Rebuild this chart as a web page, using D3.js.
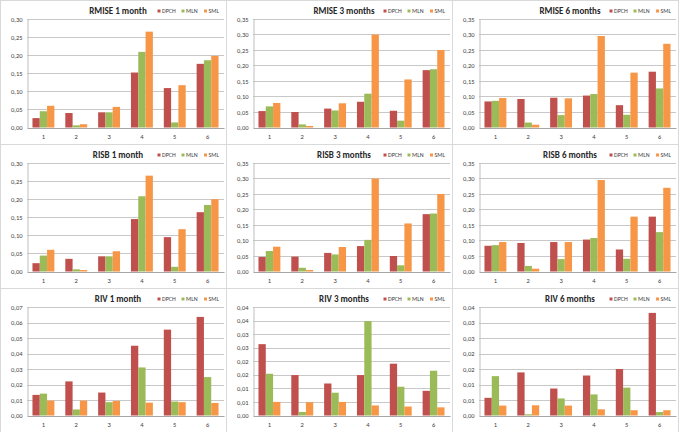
<!DOCTYPE html>
<html>
<head>
<meta charset="utf-8">
<script src="https://cdn.jsdelivr.net/npm/d3@7"></script>
<style>
  body { margin: 0; background: #fff; }
  svg { display: block; }
  text { font-family: Carlito, Calibri, "Liberation Sans Narrow", "Arial Narrow", "Liberation Sans", sans-serif; }
</style>
</head>
<body>
<div id="chart"></div>
<script>
var width = 679,
    height = 432;

var categories = ['1', '2', '3', '4', '5', '6'];
var seriesNames = ['DPCH', 'MLN', 'SML'];
var colors = ['#c0504d', '#9bbb59', '#f79646'];

var titles = ['RMISE 1 month', 'RMISE 3 months', 'RMISE 6 months',
              'RISB 1 month', 'RISB 3 months', 'RISB 6 months',
              'RIV 1 month', 'RIV 3 months', 'RIV 6 months'];

// axis max and tick step for each panel
var yMax  = [0.30, 0.35, 0.35, 0.30, 0.35, 0.35, 0.07, 0.04, 0.035];
var yStep = [0.05, 0.05, 0.05, 0.05, 0.05, 0.05, 0.01, 0.005, 0.005];

// each panel: [DPCH, MLN, SML]
var rmise1 = [[0.026, 0.040, 0.042, 0.152, 0.109, 0.176],
              [0.045, 0.006, 0.042, 0.209, 0.014, 0.186],
              [0.060, 0.009, 0.057, 0.265, 0.117, 0.198]];
var rmise3 = [[0.053, 0.050, 0.061, 0.083, 0.054, 0.185],
              [0.068, 0.010, 0.055, 0.109, 0.022, 0.188],
              [0.079, 0.005, 0.078, 0.300, 0.155, 0.250]];
var rmise6 = [[0.084, 0.092, 0.096, 0.103, 0.072, 0.180],
              [0.086, 0.016, 0.040, 0.108, 0.041, 0.126],
              [0.095, 0.009, 0.094, 0.295, 0.177, 0.270]];
var risb1  = [[0.023, 0.035, 0.042, 0.145, 0.095, 0.164],
              [0.044, 0.006, 0.042, 0.208, 0.013, 0.184],
              [0.060, 0.004, 0.056, 0.265, 0.117, 0.200]];
var risb3  = [[0.047, 0.048, 0.060, 0.082, 0.050, 0.185],
              [0.066, 0.012, 0.055, 0.102, 0.020, 0.187],
              [0.080, 0.005, 0.079, 0.300, 0.155, 0.250]];
var risb6  = [[0.083, 0.092, 0.095, 0.103, 0.071, 0.177],
              [0.085, 0.018, 0.040, 0.108, 0.041, 0.127],
              [0.095, 0.009, 0.095, 0.295, 0.177, 0.270]];
var riv1   = [[0.0133, 0.0220, 0.0148, 0.0450, 0.0554, 0.0636],
              [0.0141, 0.0039, 0.0086, 0.0310, 0.0090, 0.0248],
              [0.0096, 0.0096, 0.0094, 0.0083, 0.0086, 0.0081]];
var riv3   = [[0.0263, 0.0149, 0.0118, 0.0149, 0.0191, 0.0091],
              [0.0154, 0.0013, 0.0084, 0.0348, 0.0106, 0.0165],
              [0.0050, 0.0049, 0.0050, 0.0037, 0.0033, 0.0030]];
var riv6   = [[0.0057, 0.0139, 0.0087, 0.0129, 0.0150, 0.0331],
              [0.0127, 0.0004, 0.0055, 0.0068, 0.0090, 0.0011],
              [0.0032, 0.0033, 0.0032, 0.0020, 0.0017, 0.0017]];

var panelData = [rmise1, rmise3, rmise6, risb1, risb3, risb6, riv1, riv3, riv6];

var panelW = 226,
    panelH = 144;

var plot = { left: 27, right: 224, top: 19, bottom: 127.5 };

var svg = d3.select('#chart').append('svg')
    .attr('width', width)
    .attr('height', height);

var fmt = function(v) {
    return (Math.round(v * 100 + 1e-7) / 100).toFixed(2).replace('.', ',');
};

panelData.forEach(function(series, i) {
    var col = i % 3,
        row = Math.floor(i / 3);

    var g = svg.append('g')
        .attr('transform', 'translate(' + (col * panelW) + ',' + (row * panelH) + ')');

    g.append('rect')
        .attr('x', 0.5).attr('y', 0.5)
        .attr('width', panelW).attr('height', panelH)
        .attr('fill', '#fff')
        .attr('stroke', '#d9d9d9');

    var x = d3.scaleBand()
        .domain(categories)
        .range([plot.left, plot.right])
        .paddingInner(0.333)
        .paddingOuter(0.1665);

    var xSub = d3.scaleBand()
        .domain(seriesNames)
        .range([0, x.bandwidth()]);

    var y = d3.scaleLinear()
        .domain([0, yMax[i]])
        .range([plot.bottom, plot.top]);

    var ticks = d3.range(0, Math.round(yMax[i] / yStep[i]) + 1).map(function(k) { return k * yStep[i]; });

    // gridlines
    g.append('g').selectAll('line')
        .data(ticks.slice(1))
        .enter().append('line')
        .attr('x1', plot.left).attr('x2', plot.right)
        .attr('y1', function(d) { return Math.round(y(d)) + 0.5; })
        .attr('y2', function(d) { return Math.round(y(d)) + 0.5; })
        .attr('stroke', '#c8c8c8')
        .attr('stroke-width', 1);

    var yAxis = d3.axisLeft(y)
        .tickValues(ticks)
        .tickFormat(fmt)
        .tickSize(0)
        .tickPadding(5);

    var ya = g.append('g')
        .attr('transform', 'translate(' + (plot.left + 0.5) + ',0)')
        .call(yAxis);
    ya.select('.domain').attr('stroke', '#bfbfbf');
    ya.selectAll('text').attr('font-size', '6.5px').attr('fill', '#404040').style('font-family', null);

    // bars
    seriesNames.forEach(function(name, s) {
        g.append('g').selectAll('rect')
            .data(series[s])
            .enter().append('rect')
            .attr('x', function(d, j) { return x(categories[j]) + xSub(name); })
            .attr('y', function(d) { return y(d); })
            .attr('width', xSub.bandwidth())
            .attr('height', function(d) { return y(0) - y(d); })
            .attr('fill', colors[s]);
    });

    var xAxis = d3.axisBottom(x)
        .tickSize(0)
        .tickPadding(6);

    var xa = g.append('g')
        .attr('transform', 'translate(0,' + (plot.bottom + 0.5) + ')')
        .call(xAxis);
    xa.select('.domain').attr('stroke', '#a6a6a6');
    xa.selectAll('text').attr('font-size', '6.5px').attr('fill', '#404040').style('font-family', null);

    // title
    g.append('text')
        .attr('x', 118)
        .attr('y', 14)
        .attr('text-anchor', 'middle')
        .attr('font-size', '9px')
        .attr('font-weight', 'bold')
        .attr('fill', '#262626')
        .text(titles[i]);

    // legend
    var legendX = [159, 183, 205.5];
    seriesNames.forEach(function(name, s) {
        g.append('rect')
            .attr('x', legendX[s] - 1.5)
            .attr('y', 9.5)
            .attr('width', 3).attr('height', 3)
            .attr('fill', colors[s]);
        g.append('text')
            .attr('x', legendX[s] + 3)
            .attr('y', 13)
            .attr('font-size', '6px')
            .attr('fill', '#404040')
            .text(name);
    });
});
</script>
</body>
</html>
